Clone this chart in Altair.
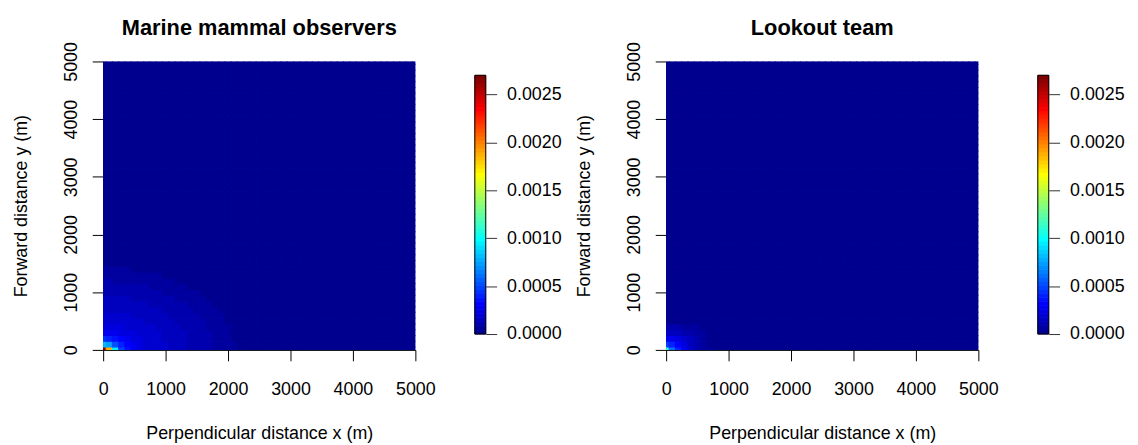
import altair as alt
import pandas as pd

# ---------------- data ----------------
ZMAX = 0.0027          # top of the colour strip (max of the surface)
CELL = 100             # grid spacing (m); cells centred on 0,100,...,5000
EXTENT = 5000
UNIT = 1e-5            # the row values below are in units of 1e-5

AXIS_TICKS = [0, 1000, 2000, 3000, 4000, 5000]
CB_TICKS = [0.0, 0.0005, 0.0010, 0.0015, 0.0020, 0.0025]

# fields::tim.colors(64)
TIM_COLORS = [
    "#00008F", "#00009F", "#0000AF", "#0000BF", "#0000CF", "#0000DF", "#0000EF", "#0000FF",
    "#0010FF", "#0020FF", "#0030FF", "#0040FF", "#0050FF", "#0060FF", "#0070FF", "#0080FF",
    "#008FFF", "#009FFF", "#00AFFF", "#00BFFF", "#00CFFF", "#00DFFF", "#00EFFF", "#00FFFF",
    "#10FFEF", "#20FFDF", "#30FFCF", "#40FFBF", "#50FFAF", "#60FF9F", "#70FF8F", "#80FF80",
    "#8FFF70", "#9FFF60", "#AFFF50", "#BFFF40", "#CFFF30", "#DFFF20", "#EFFF10", "#FFFF00",
    "#FFEF00", "#FFDF00", "#FFCF00", "#FFBF00", "#FFAF00", "#FF9F00", "#FF8F00", "#FF8000",
    "#FF7000", "#FF6000", "#FF5000", "#FF4000", "#FF3000", "#FF2000", "#FF1000", "#FF0000",
    "#EF0000", "#DF0000", "#CF0000", "#BF0000", "#AF0000", "#9F0000", "#8F0000", "#800000",
]

# rows: y = 0, 100, 200, ... ; columns: x = 0, 100, 200, ... (cells not listed are 0)
MMO_ROWS = [
    [270, 188, 97, 48, 36, 28, 24, 21, 19, 18, 17, 15, 14, 13, 12, 12, 10, 9, 8, 7, 6, 5, 4],
    [82, 72, 52, 40, 32, 26, 23, 21, 19, 18, 17, 15, 14, 13, 12, 12, 10, 9, 8, 7, 6, 5, 4],
    [45, 42, 36, 30, 26, 24, 22, 20, 19, 17, 16, 15, 14, 13, 12, 11, 10, 9, 8, 7, 6, 4, 3],
    [27, 26, 26, 25, 24, 22, 20, 19, 18, 17, 16, 15, 14, 13, 12, 11, 10, 9, 8, 7, 5, 4, 3],
    [24, 23, 23, 22, 21, 20, 19, 18, 17, 16, 15, 14, 13, 12, 11, 10, 9, 8, 7, 6, 5, 4, 3],
    [20, 20, 20, 19, 19, 18, 17, 16, 16, 15, 14, 13, 12, 12, 11, 10, 9, 8, 7, 6, 4, 3, 2],
    [18, 18, 18, 17, 17, 16, 16, 15, 14, 14, 13, 12, 12, 11, 10, 9, 8, 7, 6, 5, 4, 3, 2],
    [16, 16, 16, 16, 15, 15, 14, 14, 13, 13, 12, 11, 11, 10, 9, 8, 7, 6, 5, 4, 3, 2, 1],
    [14, 14, 14, 14, 14, 13, 13, 13, 12, 12, 11, 10, 10, 9, 8, 7, 6, 5, 4, 3, 2, 1, 1],
    [13, 13, 13, 13, 13, 12, 12, 12, 11, 10, 10, 9, 8, 8, 7, 6, 5, 4, 3, 2, 2, 1, 1],
    [12, 12, 12, 11, 11, 11, 10, 10, 10, 9, 8, 8, 7, 6, 5, 5, 4, 3, 2, 2, 1, 1],
    [10, 10, 10, 10, 10, 9, 9, 9, 8, 8, 7, 6, 6, 5, 4, 4, 3, 2, 2, 1, 1],
    [9, 9, 8, 8, 8, 8, 7, 7, 7, 6, 6, 5, 4, 4, 3, 2, 2, 1, 1],
    [7, 7, 7, 7, 6, 6, 6, 5, 5, 5, 4, 3, 3, 2, 2, 1, 1],
    [5, 5, 5, 5, 5, 4, 4, 4, 3, 3, 3, 2, 2, 1, 1],
    [3, 3, 3, 3, 3, 3, 3, 2, 2, 2, 1, 1, 1],
]

LOOK_ROWS = [
    [110, 62, 40, 26, 18, 12, 8, 5, 3],
    [48, 40, 30, 22, 16, 11, 7, 4, 3],
    [28, 26, 22, 17, 13, 9, 6, 4],
    [17, 16, 14, 12, 10, 7, 5, 3],
    [10, 10, 9, 8, 7, 5, 3],
    [4, 4, 3, 3],
]

TITLES = ["Marine mammal observers", "Lookout team"]
X_TITLE = "Perpendicular distance x (m)"
Y_TITLE = "Forward distance y (m)"

FONT = "Liberation Sans"
PW, PH = 315, 291
CBW = 11


def cells(rows):
    n = EXTENT // CELL + 1
    recs = []
    for j in range(n):
        row = rows[j] if j < len(rows) else []
        for i in range(n):
            v = row[i] * UNIT if i < len(row) else 0.0
            cx, cy = i * CELL, j * CELL
            recs.append({
                "x0": max(cx - CELL / 2, 0), "x1": min(cx + CELL / 2, EXTENT),
                "y0": max(cy - CELL / 2, 0), "y1": min(cy + CELL / 2, EXTENT),
                "z": v,
            })
    return pd.DataFrame(recs)


zscale = alt.Scale(type="quantize", domain=[0, ZMAX], range=TIM_COLORS, nice=False)


def axis_common(**kw):
    return alt.Axis(
        values=AXIS_TICKS, format="d", grid=False, labelFlush=False, labelOverlap=False,
        labelFont=FONT, titleFont=FONT, labelFontSize=18, titleFontSize=18,
        titleFontWeight="normal", labelColor="black", titleColor="black",
        domainColor="black", tickColor="black", tickSize=11, **kw,
    )


def heatmap(df, title):
    return alt.Chart(df).mark_rect(strokeWidth=1.2, clip=True).encode(
        x=alt.X("x0:Q", scale=alt.Scale(domain=[0, EXTENT], nice=False, zero=False),
                axis=axis_common(title=X_TITLE, labelPadding=20, titlePadding=26)),
        x2="x1:Q",
        y=alt.Y("y0:Q", scale=alt.Scale(domain=[0, EXTENT], nice=False, zero=False),
                axis=axis_common(title=Y_TITLE, labelAngle=-90, labelAlign="center",
                                 labelBaseline="alphabetic", labelPadding=16, titlePadding=32)),
        y2="y1:Q",
        color=alt.Color("z:Q", scale=zscale, legend=None),
        stroke=alt.Stroke("z:Q", scale=zscale, legend=None),
    ).properties(
        width=PW, height=PH,
        title=alt.TitleParams(title, font=FONT, fontSize=22, fontWeight="bold",
                              color="black", offset=2),
    )


# colour strip placement: 0 at 275 px, ZMAX at 14 px from top of a 291 px panel
PX_PER_UNIT = ZMAX / (275 - 14)
CB_DOMAIN = [0 - (PH - 275) * PX_PER_UNIT, ZMAX + 14 * PX_PER_UNIT]

cb_df = pd.DataFrame({
    "lo": [k * ZMAX / 64 for k in range(64)],
    "hi": [(k + 1) * ZMAX / 64 for k in range(64)],
    "col": TIM_COLORS,
})
cb_scale = alt.Scale(domain=CB_DOMAIN, nice=False, zero=False)


def cb_axis():
    return alt.Axis(
        orient="right", values=CB_TICKS, format=".4f", title=None, grid=False,
        domain=False, tickSize=11, tickColor="#333", labelPadding=10,
        labelFont=FONT, labelFontSize=18, labelColor="black", labelFlush=False,
        labelOverlap=False)


def colorbar():
    strip = alt.Chart(cb_df).mark_rect(strokeWidth=0.8).encode(
        x=alt.value(0), x2=alt.value(CBW),
        y=alt.Y("lo:Q", scale=cb_scale, axis=cb_axis()),
        y2="hi:Q",
        color=alt.Color("col:N", scale=None),
        stroke=alt.Stroke("col:N", scale=None),
    )
    outline = alt.Chart(pd.DataFrame({"lo": [0.0], "hi": [ZMAX]})).mark_rect(
        fill="white", fillOpacity=0, stroke="black", strokeWidth=1
    ).encode(
        x=alt.value(0), x2=alt.value(CBW),
        y=alt.Y("lo:Q", scale=cb_scale, axis=cb_axis()), y2="hi:Q",
    )
    return alt.layer(strip, outline).properties(width=CBW, height=PH)


# an empty gap between the two halves
spacer = alt.Chart(pd.DataFrame({"v": [0]})).mark_point(opacity=0).encode(
    x=alt.value(0), y=alt.value(0)
).properties(width=62, height=PH)

# spacing measured between plot areas (flush bounds)
chart = alt.hconcat(
    heatmap(cells(MMO_ROWS), TITLES[0]), colorbar(), spacer,
    heatmap(cells(LOOK_ROWS), TITLES[1]), colorbar(),
    spacing=60, bounds="flush",
).properties(
    padding={"left": 5, "top": 6, "right": 5, "bottom": 0},
    background="white",
).configure_view(stroke=None)

chart.save("out.html", embed_options={"renderer": "svg", "actions": False})
